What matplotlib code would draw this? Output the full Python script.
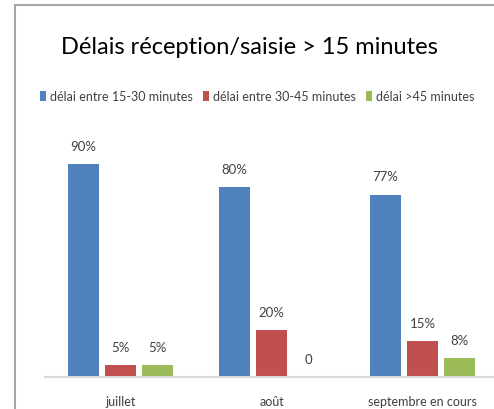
import matplotlib.pyplot as plt
from matplotlib.lines import Line2D
import numpy as np

plt.rcParams['font.family'] = ['Lato', 'DejaVu Sans']

categories = ["juillet", "août", "septembre en cours"]
series_names = ["délai entre 15-30 minutes", "délai entre 30-45 minutes", "délai >45 minutes"]
d15_30 = [0.90, 0.80, 0.77]
d30_45 = [0.05, 0.20, 0.15]
d45 = [0.05, 0.0, 0.08]
labels_15_30 = ["90%", "80%", "77%"]
labels_30_45 = ["5%", "20%", "15%"]
labels_45 = ["5%", "0", "8%"]

colors = ["#4F81BD", "#C0504D", "#9BBB59"]

W, H = 494, 410
fig = plt.figure(figsize=(W / 100, H / 100), dpi=100)
ax = fig.add_axes([45 / W, 32 / H, 449 / W, 237 / H])

x = np.arange(len(categories))
width = 0.2
offs = [-0.245, 0.0, 0.245]
series = [d15_30, d30_45, d45]
labs = [labels_15_30, labels_30_45, labels_45]
handles = []
for vals, lab, off, col, name in zip(series, labs, offs, colors, series_names):
    bars = ax.bar(x + off, vals, width, color=col, label=name, zorder=2)
    handles.append(bars)
    for b, t in zip(bars, lab):
        ax.annotate(t, (b.get_x() + b.get_width() / 2, b.get_height()),
                    xytext=(0, 13), textcoords="offset points",
                    ha="center", va="center", fontsize=9.5, color="#404040")

ax.set_xlim(-0.5, -0.5 + 449 / 151)
ax.set_ylim(0, 1)
ax.set_yticks([])
ax.set_xticks(x)
ax.set_xticklabels(categories, fontsize=9, color="#404040")
ax.tick_params(axis="x", length=0, pad=13)
for s in ["top", "right", "left"]:
    ax.spines[s].set_visible(False)
ax.spines["bottom"].set_color("#d9d9d9")
ax.spines["bottom"].set_linewidth(1.5)

fig.text(249 / W, 1 - 47 / H, "Délais réception/saisie > 15 minutes",
         ha="center", va="center", fontsize=17, color="black")

fig.legend(handles=handles, labels=series_names, loc="center",
           bbox_to_anchor=(257 / W, 1 - 97 / H), ncol=3, frameon=False,
           fontsize=9, handlelength=0.5, handleheight=0.9, handletextpad=0.3,
           columnspacing=0.8, labelcolor="#404040")

# grey frame from the original screenshot
fig.add_artist(Line2D([15 / W, 15 / W], [0, 1 - 6 / H], color="#a6a6a6", lw=1.5,
                      transform=fig.transFigure))
fig.add_artist(Line2D([15 / W, 1], [1 - 6 / H, 1 - 6 / H], color="#a6a6a6", lw=1.5,
                      transform=fig.transFigure))

fig.savefig("out.png", dpi=100)
